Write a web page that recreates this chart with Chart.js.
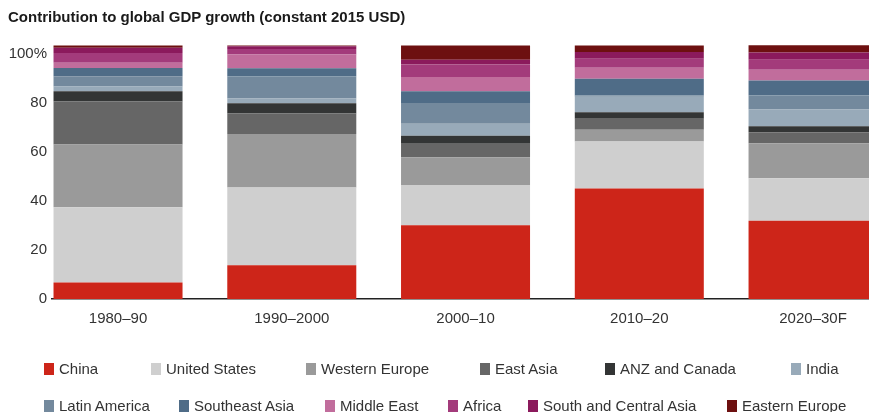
<!DOCTYPE html>
<html>
<head>
<meta charset="utf-8">
<script src="https://cdn.jsdelivr.net/npm/chart.js@4/dist/chart.umd.min.js"></script>
<style>
  html, body { margin: 0; padding: 0; background: #fff; }
  #wrap { position: relative; width: 869px; height: 412px; overflow: hidden; font-family: "Liberation Sans", Arial, sans-serif; color: #333; }
  #title { position: absolute; left: 8px; top: 8px; font-size: 15px; font-weight: bold; color: #1a1a1a; white-space: nowrap; }
  canvas { position: absolute; left: 0; top: 0; }
  .leg { position: absolute; font-size: 15px; line-height: 18px; white-space: nowrap; color: #333; }
  .leg i { position: absolute; left: -15px; top: 3px; width: 10px; height: 12px; }
</style>
</head>
<body>
<div id="wrap">
  <canvas id="chart" width="869" height="412"></canvas>
  <div id="title">Contribution to global GDP growth (constant 2015 USD)</div>
  <div id="legend"></div>
</div>
<script>
// Periods on the x axis
const periods = ['1980–90', '1990–2000', '2000–10', '2010–20', '2020–30F'];

// Y axis ticks
const yTicks = [0, 20, 40, 60, 80, 100];

// Share of global GDP growth, per region
const china        = [6.7, 13.8, 30.1, 45.1, 31.9];
const unitedStates = [30.7, 31.7, 16.4, 19.1, 17.3];
const westernEurope = [25.6, 21.8, 11.3, 4.8, 14.3];
const eastAsia     = [17.6, 8.4, 5.5, 4.5, 4.5];
const anzCanada    = [4.1, 4.1, 3.3, 2.7, 2.5];
const india        = [2.0, 2.0, 4.9, 6.3, 6.8];
const latinAmerica = [4.1, 8.9, 8.4, 0.5, 5.7];
const southeastAsia = [3.4, 3.4, 4.8, 6.8, 6.1];
const middleEast   = [2.2, 5.6, 5.8, 4.5, 4.4];
const africa       = [3.9, 2.3, 5.1, 3.7, 4.1];
const southCentralAsia = [2.2, 1.1, 2.0, 2.7, 2.9];
const easternEurope = [0.9, 0.3, 5.8, 2.7, 3.0];

const regions = [
  { name: 'China', data: china, color: '#cd2519' },
  { name: 'United States', data: unitedStates, color: '#cfcfcf' },
  { name: 'Western Europe', data: westernEurope, color: '#9a9a9a' },
  { name: 'East Asia', data: eastAsia, color: '#666666' },
  { name: 'ANZ and Canada', data: anzCanada, color: '#333535' },
  { name: 'India', data: india, color: '#98aab9' },
  { name: 'Latin America', data: latinAmerica, color: '#73899d' },
  { name: 'Southeast Asia', data: southeastAsia, color: '#4f6c87' },
  { name: 'Middle East', data: middleEast, color: '#c16d9c' },
  { name: 'Africa', data: africa, color: '#a33b7b' },
  { name: 'South and Central Asia', data: southCentralAsia, color: '#8b1a5c' },
  { name: 'Eastern Europe', data: easternEurope, color: '#6d1010' }
];

// Legend layout: two rows, text start x for each item
const legendRows = [
  { top: 360, items: [[0, 59], [1, 166], [2, 321], [3, 495], [4, 620], [5, 806]] },
  { top: 397, items: [[6, 59], [7, 194], [8, 340], [9, 463], [10, 543], [11, 742]] }
];

// Build the HTML legend
function buildLegend() {
  const el = document.getElementById('legend');
  legendRows.forEach(row => {
    row.items.forEach(([idx, x]) => {
      const r = regions[idx];
      const d = document.createElement('div');
      d.className = 'leg';
      d.style.left = x + 'px';
      d.style.top = row.top + 'px';
      d.innerHTML = `<i style="background:${r.color}"></i>${r.name}`;
      el.appendChild(d);
    });
  });
}

buildLegend();

const fontFamily = '"Liberation Sans", Arial, sans-serif';

new Chart(document.getElementById('chart').getContext('2d'), {
  type: 'bar',
  data: {
    datasets: regions.map(r => ({
      label: r.name,
      data: r.data.map((v, i) => ({ x: i, y: v })),
      backgroundColor: r.color,
      borderWidth: 0,
      barPercentage: 1,
      categoryPercentage: 0.7425
    }))
  },
  options: {
    responsive: false,
    animation: false,
    events: [],
    layout: { padding: { top: 44, bottom: 73, left: 0, right: 0 } },
    plugins: {
      legend: { display: false },
      title: { display: false },
      tooltip: { enabled: false }
    },
    scales: {
      x: {
        type: 'linear',
        stacked: true,
        offset: false,
        min: -0.38,
        max: 4.322,
        grid: { display: false, drawTicks: false },
        border: { display: true, color: '#222', width: 1.5 },
        ticks: {
          stepSize: 1,
          includeBounds: false,
          padding: 11,
          color: '#333',
          font: { family: fontFamily, size: 15 },
          callback: v => periods[v] ?? ''
        }
      },
      y: {
        stacked: true,
        min: 0,
        max: 104,
        grid: { display: false, drawTicks: false },
        border: { display: false },
        afterFit: scale => { scale.width = 52; },
        afterBuildTicks: scale => { scale.ticks = yTicks.map(v => ({ value: v })); },
        ticks: {
          padding: 5,
          color: '#333',
          font: { family: fontFamily, size: 15 },
          callback: v => v === 100 ? '100%' : v
        }
      }
    }
  }
});
</script>
</body>
</html>
